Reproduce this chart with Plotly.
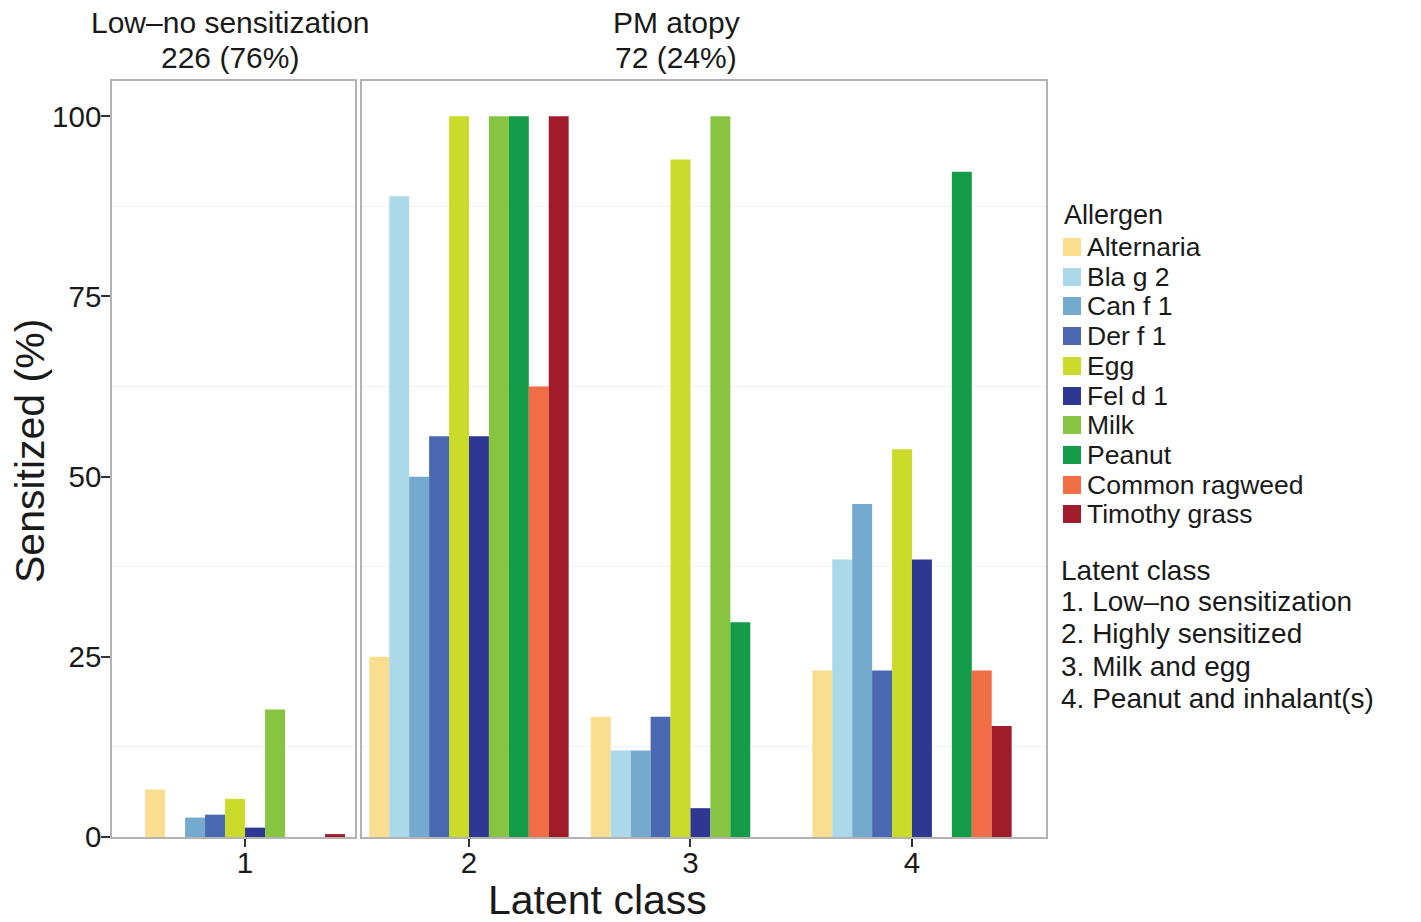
import plotly.graph_objects as go

# Allergen categories and fill colours
allergens = ["Alternaria", "Bla g 2", "Can f 1", "Der f 1", "Egg",
             "Fel d 1", "Milk", "Peanut", "Common ragweed", "Timothy grass"]
colors = ["#FADE8F", "#ABD9E9", "#74AACE", "#4A68B1", "#CBDB2A",
          "#2E3893", "#87C441", "#149B48", "#F06D45", "#A11C2B"]

# Percent sensitized for latent classes 1..4
latent_classes = [1, 2, 3, 4]
alternaria = [6.6, 25.0, 16.7, 23.1]
bla_g_2 = [0.0, 88.9, 12.0, 38.5]
can_f_1 = [2.7, 50.0, 12.0, 46.2]
der_f_1 = [3.1, 55.6, 16.7, 23.1]
egg = [5.3, 100.0, 94.0, 53.8]
fel_d_1 = [1.3, 55.6, 4.0, 38.5]
milk = [17.7, 100.0, 100.0, 0.0]
peanut = [0.0, 100.0, 29.8, 92.3]
common_ragweed = [0.0, 62.5, 0.0, 23.1]
timothy_grass = [0.4, 100.0, 0.0, 15.4]
series = [alternaria, bla_g_2, can_f_1, der_f_1, egg,
          fel_d_1, milk, peanut, common_ragweed, timothy_grass]

y_ticks = [0, 25, 50, 75, 100]
class_labels = ["1. Low\u2013no sensitization", "2. Highly sensitized",
                "3. Milk and egg", "4. Peanut and inhalant(s)"]
facet_titles = [("Low\u2013no sensitization", "226 (76%)"),
                ("PM atopy", "72 (24%)")]

FONT = "Liberation Sans, Arial, Helvetica, sans-serif"
TXT = "#1a1a1a"
BORDER = "#b3b3b3"

fig = go.Figure()
for name, col, vals in zip(allergens, colors, series):
    # facet 1: low/no sensitization
    fig.add_trace(go.Bar(x=latent_classes[:1], y=vals[:1], name=name,
                         marker=dict(color=col, line=dict(width=0)),
                         xaxis="x", yaxis="y", showlegend=False))
    # facet 2: PM atopy classes
    fig.add_trace(go.Bar(x=latent_classes[1:], y=vals[1:], name=name,
                         marker=dict(color=col, line=dict(width=0)),
                         xaxis="x2", yaxis="y2", showlegend=False))

# plot area in pixels
W, H = 1421, 922
L, R, T, B = 112, 1046, 81, 837
pw, ph = R - L, B - T
split1 = (355 - L) / pw
split2 = (362 - L) / pw


def px(x):
    return (x - L) / pw


def py(y):
    return (B - y) / ph


axis_common = dict(showline=True, mirror=True, linecolor=BORDER, linewidth=1.5,
                   zeroline=False, showgrid=False)
ygrid_minor = dict(tickvals=[12.5, 37.5, 62.5, 87.5], showgrid=True,
                   gridcolor="#f2f2f2", gridwidth=1, ticks="")
xtick_style = dict(ticks="outside", ticklen=8, tickcolor="#333", tickwidth=1.5,
                   tickfont=dict(size=29.5, color=TXT), ticklabelstandoff=-9)

fig.update_layout(
    width=W, height=H,
    margin=dict(l=L, r=W - R, t=T, b=H - B, pad=0),
    paper_bgcolor="white", plot_bgcolor="white",
    barmode="group", bargap=0.1, bargroupgap=0,
    font=dict(family=FONT, color=TXT, size=29),
    showlegend=False,
    xaxis=dict(domain=[0, split1], range=[0.401, 1.495], tickvals=[1],
               ticktext=["1"], **xtick_style, **axis_common),
    xaxis2=dict(domain=[split2, 1], range=[1.517, 4.605], tickvals=[2, 3, 4],
                ticktext=["2", "3", "4"], anchor="y2",
                **xtick_style, **axis_common),
    yaxis=dict(range=[0, 104.9], tickvals=y_ticks,
               ticktext=[str(v) for v in y_ticks], ticks="outside",
               ticklen=9, tickcolor="#333", tickwidth=1.5,
               tickfont=dict(size=29.5, color=TXT), ticklabelstandoff=-6,
               minor=ygrid_minor, **axis_common),
    yaxis2=dict(range=[0, 104.9], anchor="x2", matches="y",
                showticklabels=False, ticks="", minor=ygrid_minor,
                **axis_common),
)

ann = []
# facet strip labels
for cx, (l1, l2) in zip([230, 676], facet_titles):
    for cy, text in [(23, l1), (58, l2)]:
        ann.append(dict(text=text, x=px(cx), y=py(cy),
                        xref="paper", yref="paper", xanchor="center",
                        yanchor="middle", showarrow=False,
                        font=dict(size=30, color=TXT)))
# axis titles
ann.append(dict(text="Latent class", x=px(597), y=py(900),
                xref="paper", yref="paper", xanchor="center",
                yanchor="middle", showarrow=False,
                font=dict(size=41, color=TXT)))
ann.append(dict(text="Sensitized (%)", x=px(30), y=py(451),
                xref="paper", yref="paper", xanchor="center",
                yanchor="middle", textangle=-90, showarrow=False,
                font=dict(size=41, color=TXT)))

# allergen key: title, colour swatches and labels
ann.append(dict(text="Allergen", x=px(1062), y=py(215), xref="paper",
                yref="paper", xanchor="left", yanchor="middle",
                showarrow=False, font=dict(size=27, color=TXT)))
for i, (name, col) in enumerate(zip(allergens, colors)):
    cy = 247 + 29.7 * i
    ann.append(dict(text=" ", x=px(1063), y=py(cy), xref="paper",
                    yref="paper", xanchor="left", yanchor="middle",
                    width=18, height=18, bgcolor=col, borderpad=0,
                    borderwidth=0, showarrow=False, font=dict(size=8)))
    ann.append(dict(text=name, x=px(1085), y=py(cy), xref="paper",
                    yref="paper", xanchor="left", yanchor="middle",
                    showarrow=False, font=dict(size=26.5, color=TXT)))

# latent class key
for cy, text in zip([570, 602, 634, 666, 698], ["Latent class"] + class_labels):
    ann.append(dict(text=text, x=px(1059), y=py(cy),
                    xref="paper", yref="paper", xanchor="left",
                    yanchor="middle", showarrow=False,
                    font=dict(size=28, color=TXT)))
fig.update_layout(annotations=ann)

fig.write_html("out.html")
